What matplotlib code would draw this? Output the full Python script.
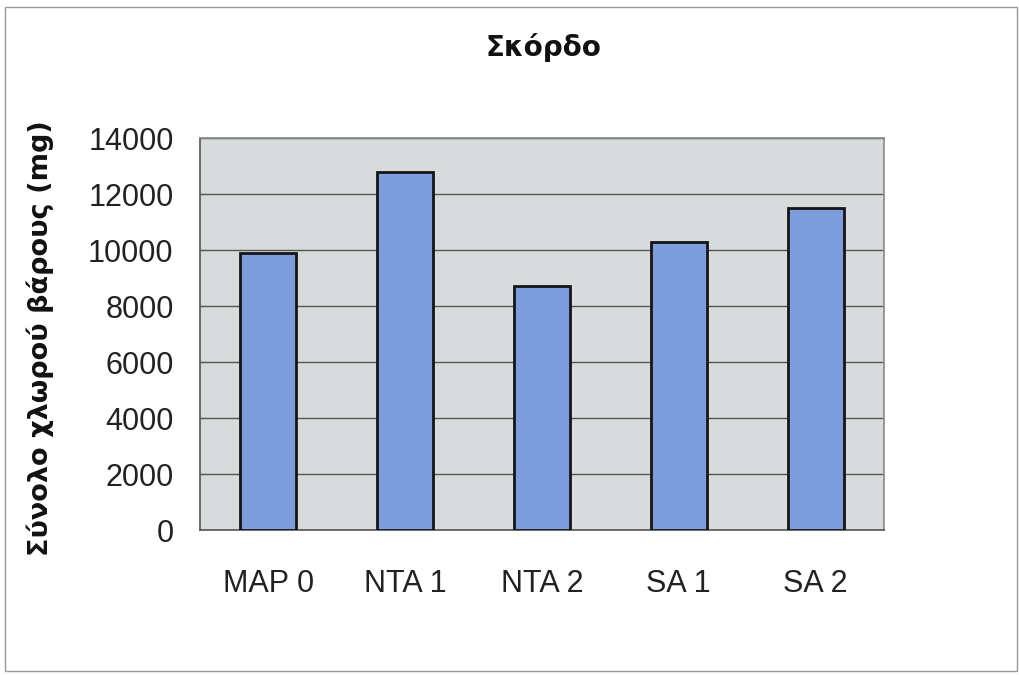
import matplotlib
matplotlib.use("Agg")
import matplotlib.pyplot as plt
from matplotlib.patches import Rectangle

categories = ["MAP 0", "NTA 1", "NTA 2", "SA 1", "SA 2"]
values = [9900, 12800, 8700, 10300, 11500]
yticks = [0, 2000, 4000, 6000, 8000, 10000, 12000, 14000]
title = "Σκόρδο"
ylabel = "Σύνολο χλωρού βάρους (mg)"

fig = plt.figure(figsize=(10.2, 6.75), dpi=100)
fig.patch.set_facecolor("white")
ax = fig.add_axes([200/1020, 1-530/675, 684/1020, 392/675])
ax.set_facecolor("#D8DBDB")

x = list(range(len(categories)))
ax.bar(x, values, width=0.41, color="#7E9DDC", edgecolor="#151515", linewidth=2.0, zorder=3)

ax.set_xlim(-0.5, len(categories) - 0.5)
ax.set_ylim(0, 14000)
ax.set_yticks(yticks)
ax.set_yticklabels([str(v) for v in yticks])
ax.set_xticks(x)
ax.set_xticklabels(categories)
ax.yaxis.grid(True, color="#555555", linewidth=1.0, zorder=1)
ax.set_axisbelow(True)
ax.tick_params(axis="both", length=0, labelsize=22, colors="#222222")
ax.tick_params(axis="x", pad=28)
ax.tick_params(axis="y", pad=19)
for lbl in ax.get_xticklabels() + ax.get_yticklabels():
    lbl.set_fontfamily("Liberation Sans")

for side in ["left", "bottom"]:
    ax.spines[side].set_color("#555555")
    ax.spines[side].set_linewidth(1.2)
for side in ["top", "right"]:
    ax.spines[side].set_color("#8A8A8A")
    ax.spines[side].set_linewidth(1.2)

fig.text(543/1020, 1-47/675, title, ha="center", va="center", fontsize=20,
         fontweight="bold", family="DejaVu Sans", color="#111111")
fig.text(40/1020, 1-338/675, ylabel, ha="center", va="center", rotation=90,
         fontsize=19.5, fontweight="bold", family="DejaVu Sans", color="#111111")

fig.patches.append(Rectangle((5/1020, 1-671/675), 1012/1020, 664/675,
                             transform=fig.transFigure, fill=False,
                             edgecolor="#999999", linewidth=1.0))

fig.savefig("out.png", dpi=100)
